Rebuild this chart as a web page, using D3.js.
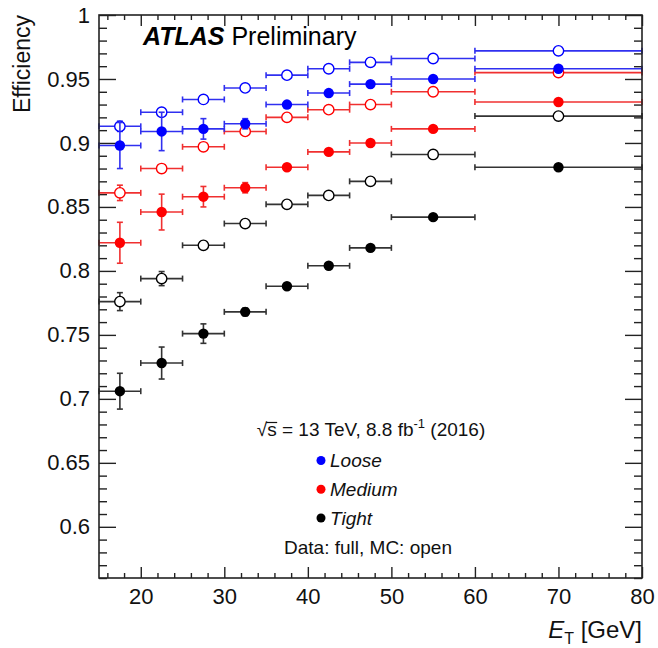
<!DOCTYPE html>
<html>
<head>
<meta charset="utf-8">
<script src="https://cdn.jsdelivr.net/npm/d3@7"></script>
<style>
  html, body { margin: 0; padding: 0; background: #fff; }
  svg { display: block; font-family: "Liberation Sans", Arial, Helvetica, sans-serif; }
</style>
</head>
<body>
<svg id="chart" width="658" height="648"></svg>
<script>
// E_T bin edges [GeV]
const binEdges = [15, 20, 25, 30, 35, 40, 45, 50, 60, 80];

// Loose working point
const looseData    = [0.898, 0.909, 0.911, 0.915, 0.930, 0.939, 0.946, 0.950, 0.958];
const looseDataErr = [0.018, 0.015, 0.008, 0.004, 0.002, 0.002, 0.002, 0.002, 0.002];
const looseMC      = [0.913, 0.924, 0.934, 0.943, 0.953, 0.958, 0.963, 0.966, 0.972];
const looseMCErr   = [0.004, 0.002, 0.001, 0.001, 0.001, 0.001, 0.001, 0.001, 0.001];

// Medium working point
const mediumData    = [0.822, 0.846, 0.858, 0.865, 0.881, 0.893, 0.900, 0.911, 0.932];
const mediumDataErr = [0.016, 0.014, 0.008, 0.004, 0.002, 0.002, 0.002, 0.002, 0.002];
const mediumMC      = [0.861, 0.880, 0.897, 0.909, 0.920, 0.926, 0.930, 0.940, 0.955];
const mediumMCErr   = [0.006, 0.003, 0.002, 0.001, 0.001, 0.001, 0.001, 0.001, 0.001];

// Tight working point
const tightData    = [0.706, 0.728, 0.751, 0.768, 0.788, 0.804, 0.818, 0.842, 0.881];
const tightDataErr = [0.014, 0.0125, 0.0076, 0.003, 0.002, 0.002, 0.002, 0.002, 0.002];
const tightMC      = [0.776, 0.794, 0.820, 0.837, 0.852, 0.859, 0.870, 0.891, 0.921];
const tightMCErr   = [0.007, 0.0055, 0.003, 0.002, 0.001, 0.001, 0.001, 0.001, 0.001];

// Axis ticks
const xMajorTicks = [20, 30, 40, 50, 60, 70, 80];
const yMajorTicks = [0.6, 0.65, 0.7, 0.75, 0.8, 0.85, 0.9, 0.95, 1.0];
const yTickLabels = ["0.6", "0.65", "0.7", "0.75", "0.8", "0.85", "0.9", "0.95", "1"];

const legendNames  = ["Loose", "Medium", "Tight"];
const legendColors = ["#0000ff", "#ff0000", "#000000"];

// ---------- layout ----------
const svg = d3.select("#chart");
const L = 99, R = 642, T = 15, B = 578;

const x = d3.scaleLinear().domain([15, 80]).range([L, R]);
const y = d3.scaleLinear().domain([0.56, 1.0]).range([B, T]);

const xMinor = d3.range(16, 80.001, 2).filter(v => v % 10 !== 0);
const yMinor = d3.range(56, 100.001, 1).map(v => v / 100).filter(v => Math.round(v * 100) % 5 !== 0);

const frameColor = "#222";

function styleAxis(g) {
  g.select(".domain").remove();
  g.selectAll(".tick line").attr("stroke", frameColor).attr("stroke-width", 1.4);
}

// left axis with labels
svg.append("g").attr("transform", `translate(${L},0)`)
  .call(d3.axisLeft(y).tickValues(yMajorTicks).tickSize(-17).tickPadding(9)
    .tickFormat((d, i) => yTickLabels[i]))
  .call(styleAxis)
  .call(g => g.selectAll("text").attr("font-size", 22).attr("fill", "#111")
    .attr("font-family", "Liberation Sans, Arial, sans-serif"));
svg.append("g").attr("transform", `translate(${L},0)`)
  .call(d3.axisLeft(y).tickValues(yMinor).tickSize(-8).tickFormat(""))
  .call(styleAxis);

// right axis (ticks only)
svg.append("g").attr("transform", `translate(${R},0)`)
  .call(d3.axisRight(y).tickValues(yMajorTicks).tickSize(-17).tickFormat(""))
  .call(styleAxis);
svg.append("g").attr("transform", `translate(${R},0)`)
  .call(d3.axisRight(y).tickValues(yMinor).tickSize(-8).tickFormat(""))
  .call(styleAxis);

// bottom axis with labels
svg.append("g").attr("transform", `translate(0,${B})`)
  .call(d3.axisBottom(x).tickValues(xMajorTicks).tickSize(-11).tickPadding(10))
  .call(styleAxis)
  .call(g => g.selectAll("text").attr("font-size", 22).attr("fill", "#111")
    .attr("font-family", "Liberation Sans, Arial, sans-serif"));
svg.append("g").attr("transform", `translate(0,${B})`)
  .call(d3.axisBottom(x).tickValues(xMinor).tickSize(-5).tickFormat(""))
  .call(styleAxis);

// top axis (ticks only)
svg.append("g").attr("transform", `translate(0,${T})`)
  .call(d3.axisTop(x).tickValues(xMajorTicks).tickSize(-11).tickFormat(""))
  .call(styleAxis);
svg.append("g").attr("transform", `translate(0,${T})`)
  .call(d3.axisTop(x).tickValues(xMinor).tickSize(-5).tickFormat(""))
  .call(styleAxis);

// ---------- series ----------
const series = [
  { vals: tightMC,    errs: tightMCErr,    color: "#000000", line: "#333333", open: true },
  { vals: tightData,  errs: tightDataErr,  color: "#000000", line: "#333333", open: false },
  { vals: mediumMC,   errs: mediumMCErr,   color: "#ff0000", line: "#f03030", open: true },
  { vals: mediumData, errs: mediumDataErr, color: "#ff0000", line: "#f03030", open: false },
  { vals: looseMC,    errs: looseMCErr,    color: "#0000ff", line: "#3030f0", open: true },
  { vals: looseData,  errs: looseDataErr,  color: "#0000ff", line: "#3030f0", open: false }
];

const plot = svg.append("g");
const cap = 3;

series.forEach(s => {
  const pts = s.vals.map((v, i) => ({
    lo: binEdges[i], hi: binEdges[i + 1],
    c: (binEdges[i] + binEdges[i + 1]) / 2,
    v: v, e: s.errs[i]
  }));
  const g = plot.append("g")
    .attr("stroke", s.line).attr("stroke-width", 1.6).attr("fill", "none");

  // horizontal bars (bin width) with end caps
  g.selectAll(".hbar").data(pts).join("line")
    .attr("x1", d => x(d.lo)).attr("x2", d => x(d.hi))
    .attr("y1", d => y(d.v)).attr("y2", d => y(d.v));
  g.selectAll(".hcapL").data(pts).join("line")
    .attr("x1", d => x(d.lo)).attr("x2", d => x(d.lo))
    .attr("y1", d => y(d.v) - cap).attr("y2", d => y(d.v) + cap);
  g.selectAll(".hcapR").data(pts).join("line")
    .attr("x1", d => x(d.hi)).attr("x2", d => x(d.hi))
    .attr("y1", d => y(d.v) - cap).attr("y2", d => y(d.v) + cap);

  // vertical error bars with caps
  g.selectAll(".vbar").data(pts).join("line")
    .attr("x1", d => x(d.c)).attr("x2", d => x(d.c))
    .attr("y1", d => y(d.v - d.e)).attr("y2", d => y(d.v + d.e));
  g.selectAll(".vcapT").data(pts).join("line")
    .attr("x1", d => x(d.c) - cap).attr("x2", d => x(d.c) + cap)
    .attr("y1", d => y(d.v + d.e)).attr("y2", d => y(d.v + d.e));
  g.selectAll(".vcapB").data(pts).join("line")
    .attr("x1", d => x(d.c) - cap).attr("x2", d => x(d.c) + cap)
    .attr("y1", d => y(d.v - d.e)).attr("y2", d => y(d.v - d.e));

  // markers
  plot.append("g").selectAll("circle").data(pts).join("circle")
    .attr("cx", d => x(d.c)).attr("cy", d => y(d.v))
    .attr("r", 5.2)
    .attr("fill", s.open ? "#fff" : s.color)
    .attr("stroke", s.color)
    .attr("stroke-width", s.open ? 1.4 : 0);
});

// ---------- frame ----------
svg.append("rect")
  .attr("x", L).attr("y", T).attr("width", R - L).attr("height", B - T)
  .attr("fill", "none").attr("stroke", frameColor).attr("stroke-width", 1.6);

// ---------- titles ----------
svg.append("text")
  .attr("transform", `translate(30,${T}) rotate(-90)`)
  .attr("text-anchor", "end").attr("font-size", 23).attr("fill", "#111")
  .text("Efficiency");

const xt = svg.append("text")
  .attr("x", R).attr("y", 638).attr("text-anchor", "end")
  .attr("font-size", 24).attr("fill", "#111");
xt.append("tspan").attr("font-style", "italic").text("E");
xt.append("tspan").attr("font-size", 16).attr("dy", 6).text("T");
xt.append("tspan").attr("dy", -6).text(" [GeV]");

const atlas = svg.append("text").attr("x", 143).attr("y", 45)
  .attr("font-size", 25).attr("fill", "#000");
atlas.append("tspan").attr("font-weight", "bold").attr("font-style", "italic").text("ATLAS");
atlas.append("tspan").text(" Preliminary");

// ---------- legend ----------
const leg = svg.append("g").attr("fill", "#111");
const sq = leg.append("text").attr("x", 371).attr("y", 436)
  .attr("text-anchor", "middle").attr("font-size", 19);
sq.append("tspan").text("\u221As = 13 TeV, 8.8 fb");
sq.append("tspan").attr("font-size", 13).attr("dy", -8).text("-1");
sq.append("tspan").attr("dy", 8).text(" (2016)");

// bar over the "s" under the root sign
{
  const node = sq.node();
  const start = node.getStartPositionOfChar(1).x;
  const end = node.getEndPositionOfChar(1).x;
  const rootStart = node.getStartPositionOfChar(0).x;
  const rootEnd = node.getEndPositionOfChar(0).x;
  leg.append("line")
    .attr("x1", rootEnd - 1).attr("x2", end + 0.5)
    .attr("y1", 422.5).attr("y2", 422.5)
    .attr("stroke", "#111").attr("stroke-width", 1.2);
}

const legY = [460.5, 489.3, 518];
legendNames.forEach((n, i) => {
  leg.append("circle").attr("cx", 321).attr("cy", legY[i]).attr("r", 4.5)
    .attr("fill", legendColors[i]);
  leg.append("text").attr("x", 330).attr("y", legY[i] + 6.5)
    .attr("font-size", 19).attr("font-style", "italic").text(n);
});

leg.append("text").attr("x", 368).attr("y", 554).attr("text-anchor", "middle")
  .attr("font-size", 19).text("Data: full, MC: open");
</script>
</body>
</html>
